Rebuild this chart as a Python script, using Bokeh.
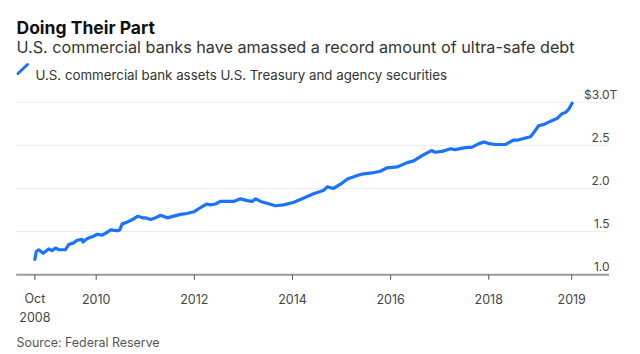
from bokeh.plotting import figure
from bokeh.models import Label, ColumnDataSource
from bokeh.embed import file_html
from bokeh.resources import INLINE

# ---- data (decimal year, $ trillions) ----
years = [2008.75, 2008.78, 2008.83, 2008.92, 2009.03, 2009.10, 2009.17, 2009.24, 2009.37, 2009.44,
         2009.54, 2009.61, 2009.71, 2009.73, 2009.82, 2009.92, 2010.02, 2010.12, 2010.22, 2010.29,
         2010.43, 2010.48, 2010.53, 2010.63, 2010.77, 2010.85, 2010.94, 2011.00, 2011.11, 2011.21,
         2011.31, 2011.45, 2011.58, 2011.72, 2011.85, 2011.99, 2012.13, 2012.25, 2012.33, 2012.43,
         2012.53, 2012.67, 2012.80, 2012.94, 2013.08, 2013.18, 2013.25, 2013.35, 2013.48, 2013.65,
         2013.82, 2014.03, 2014.23, 2014.43, 2014.64, 2014.71, 2014.83, 2014.98, 2015.12, 2015.32,
         2015.45, 2015.62, 2015.79, 2015.93, 2016.13, 2016.34, 2016.47, 2016.64, 2016.83, 2016.91,
         2017.05, 2017.22, 2017.32, 2017.49, 2017.66, 2017.80, 2017.91, 2018.00, 2018.14, 2018.34,
         2018.50, 2018.58, 2018.71, 2018.85, 2018.92, 2019.02, 2019.12, 2019.26, 2019.39, 2019.50,
         2019.56, 2019.63, 2019.70]
assets = [1.18, 1.27, 1.29, 1.25, 1.30, 1.28, 1.31, 1.29, 1.29, 1.35,
          1.37, 1.40, 1.41, 1.38, 1.42, 1.44, 1.47, 1.46, 1.49, 1.52,
          1.51, 1.52, 1.59, 1.61, 1.65, 1.68, 1.66, 1.66, 1.64, 1.66,
          1.69, 1.66, 1.68, 1.70, 1.71, 1.73, 1.78, 1.82, 1.81, 1.82,
          1.85, 1.85, 1.85, 1.88, 1.86, 1.85, 1.88, 1.85, 1.83, 1.80,
          1.81, 1.84, 1.89, 1.94, 1.98, 2.02, 2.00, 2.05, 2.11, 2.15,
          2.17, 2.18, 2.20, 2.24, 2.25, 2.30, 2.32, 2.38, 2.44, 2.42,
          2.43, 2.46, 2.45, 2.47, 2.48, 2.52, 2.54, 2.52, 2.51, 2.51,
          2.56, 2.56, 2.58, 2.60, 2.65, 2.73, 2.74, 2.78, 2.81, 2.87,
          2.88, 2.92, 2.99]

x_ticks = [2008.75, 2010, 2012, 2014, 2016, 2018, 2019.69]
x_tick_labels = ["Oct\n2008", "2010", "2012", "2014", "2016", "2018", "2019"]
y_ticks = [1.0, 1.5, 2.0, 2.5, 3.0]
y_tick_labels = ["1.0", "1.5", "2.0", "2.5", "$3.0"]
y_unit = "T"

title = "Doing Their Part"
subtitle = "U.S. commercial banks have amassed a record amount of ultra-safe debt"
series_name = "U.S. commercial bank assets U.S. Treasury and agency securities"
source = "Source: Federal Reserve"

FONT = "Inter"
BLUE = "#1a73ff"
W, H = 640, 354

# geometry: the frame fills the canvas; scales chosen so that the chart area
# runs from px 15.7 to 609 horizontally and 1.0 sits at px 274.3
PX_PER_YEAR, X2010_PX = 49.07, 95.7
PX_PER_T, Y1_PX = 86.3, 274.3
def X(px):
    return 2010 + (px - X2010_PX) / PX_PER_YEAR
def Y(py):
    return 1.0 + (Y1_PX - py) / PX_PER_T

p = figure(width=W, height=H, output_backend="svg", toolbar_location=None,
           x_range=(X(0), X(W)), y_range=(Y(H), Y(0)),
           min_border=0, outline_line_color=None,
           background_fill_color="white", border_fill_color="white")
p.axis.visible = False
p.grid.visible = False

x_left, x_right = X(15.7), X(609)

# gridlines
p.segment(x0=[x_left] * 4, x1=[x_right] * 4, y0=y_ticks[1:], y1=y_ticks[1:],
          line_color="#ebebeb", line_width=1)

# series
src = ColumnDataSource(dict(x=years, y=assets))
p.line("x", "y", source=src, line_color=BLUE, line_width=3.2, line_join="round", line_cap="round")

# x axis line + ticks
p.segment(x0=[x_left], x1=[X(608.5)], y0=[y_ticks[0]], y1=[y_ticks[0]],
          line_color="#9a9a9a", line_width=2)
tick_bottom = Y(Y1_PX + 5)
p.segment(x0=x_ticks, x1=x_ticks, y0=[y_ticks[0]] * len(x_ticks), y1=[tick_bottom] * len(x_ticks),
          line_color="#555555", line_width=1)

# x tick labels
first_lines = [l.split("\n")[0] for l in x_tick_labels]
second_lines = [l.split("\n")[1] if "\n" in l else "" for l in x_tick_labels]
p.text(x=x_ticks, y=[Y(298.3)] * len(x_ticks), text=first_lines,
       text_align="center", text_baseline="alphabetic",
       text_font={"value": FONT}, text_font_size={"value": "12.5px"}, text_color="#444444")
p.text(x=x_ticks, y=[Y(316.7)] * len(x_ticks), text=second_lines,
       text_align="center", text_baseline="alphabetic",
       text_font={"value": FONT}, text_font_size={"value": "12.5px"}, text_color="#444444")

# y tick labels (right side, above the gridlines)
lab_x = [X(609)] * len(y_ticks)
p.text(x=lab_x, y=y_ticks, text=y_tick_labels, y_offset=-8,
       text_align="right", text_baseline="alphabetic",
       text_font={"value": FONT}, text_font_size={"value": "12px"}, text_color="#444444")
p.text(x=[X(609)], y=[y_ticks[-1]], text=[y_unit], y_offset=-8,
       text_align="left", text_baseline="alphabetic",
       text_font={"value": FONT}, text_font_size={"value": "12px"}, text_color="#444444")

# headline texts
def add_text(txt, px, py, size, color, style="normal"):
    p.add_layout(Label(x=px, y=H - py, x_units="screen", y_units="screen", text=txt,
                       text_baseline="alphabetic", text_font=FONT, text_font_size=size,
                       text_font_style=style, text_color=color))

add_text(title, 16, 26.7, "17.5px", "#111111", "bold")
add_text(subtitle, 16, 46.7, "16.2px", "#333333")
add_text(series_name, 35, 74, "13.3px", "#333333")
add_text(source, 16, 341.7, "12.4px", "#555555")

# legend swatch
p.segment(x0=[X(17.5)], y0=[Y(73)], x1=[X(27)], y1=[Y(64)], line_color=BLUE, line_width=3,
          line_cap="round")

open("out.html", "w").write(file_html(p, INLINE))
